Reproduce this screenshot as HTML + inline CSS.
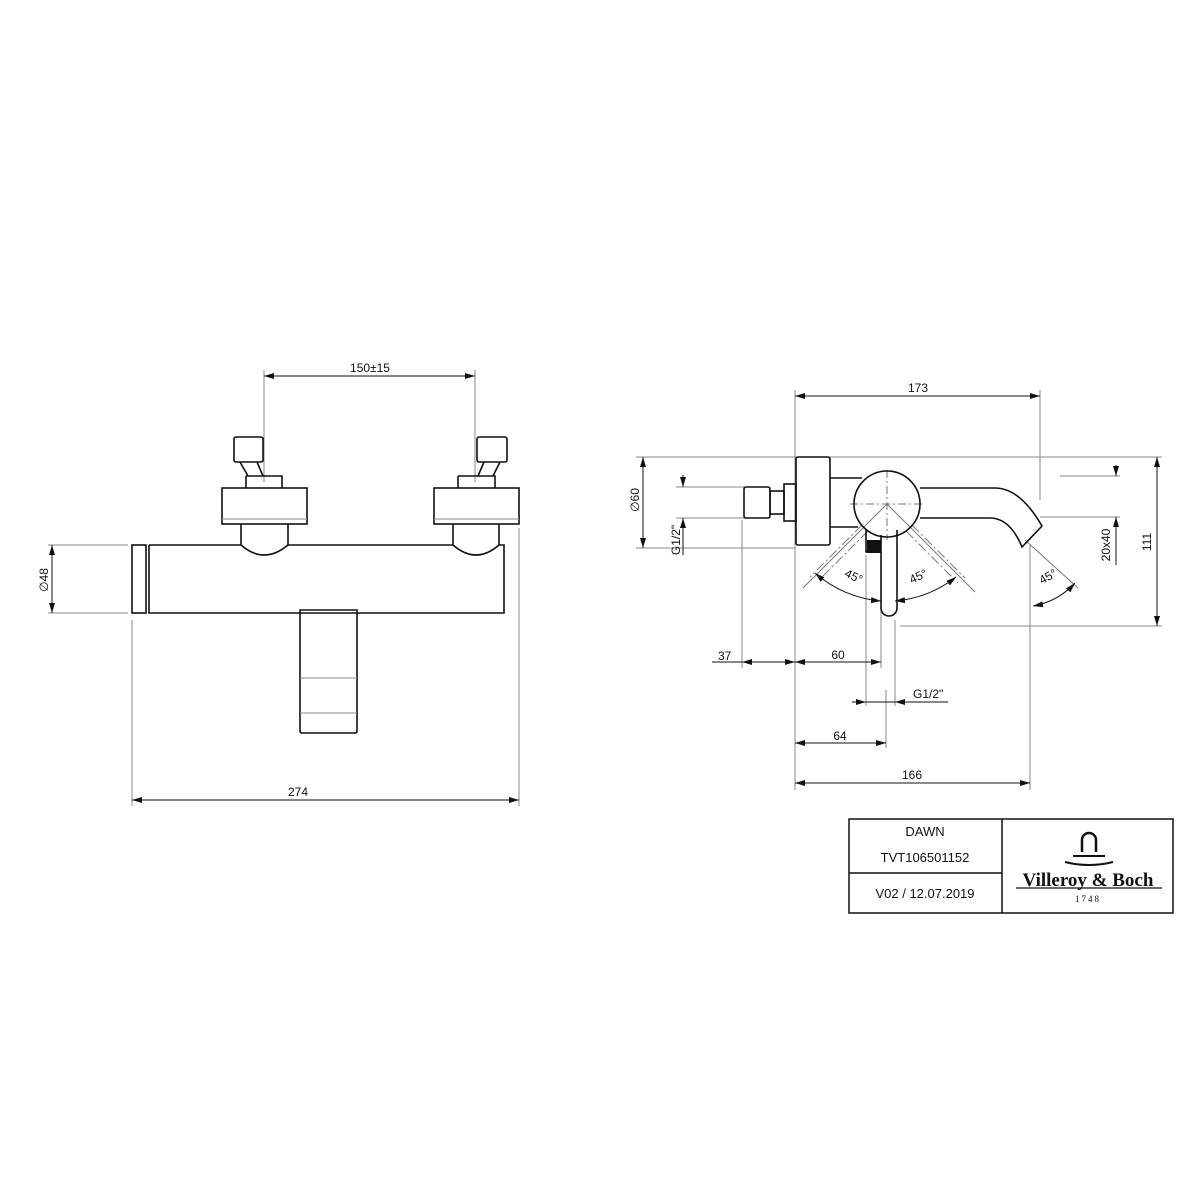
<!DOCTYPE html>
<html><head><style>body{margin:0;background:#fff}svg{display:block}text{font-family:"Liberation Sans",sans-serif;fill:#111}</style></head><body>
<svg width="1200" height="1200" viewBox="0 0 1200 1200" xmlns="http://www.w3.org/2000/svg">
<defs>
<marker id="a" viewBox="0 0 10 6" refX="10" refY="3" markerWidth="10" markerHeight="6" orient="auto-start-reverse" markerUnits="userSpaceOnUse"><path d="M0,0L10,3L0,6z" fill="#111"/></marker>
</defs>
<g stroke="#888" stroke-width="1" fill="none">
<line x1="264" y1="370" x2="264" y2="482"/><line x1="475" y1="370" x2="475" y2="482"/>
<line x1="48" y1="545" x2="128" y2="545"/><line x1="48" y1="613" x2="128" y2="613"/>
<line x1="132" y1="620" x2="132" y2="806"/><line x1="519" y1="528" x2="519" y2="806"/>
<line x1="795" y1="390" x2="795" y2="790"/><line x1="1040" y1="390" x2="1040" y2="500"/>
<line x1="636" y1="457" x2="1162" y2="457"/><line x1="676" y1="487" x2="745" y2="487"/><line x1="676" y1="518" x2="745" y2="518"/>
<line x1="636" y1="548" x2="795" y2="548"/><line x1="900" y1="626" x2="1162" y2="626"/>
<line x1="1060" y1="476" x2="1120" y2="476"/><line x1="1040" y1="517" x2="1120" y2="517"/>
<line x1="742" y1="520" x2="742" y2="668"/><line x1="866" y1="555" x2="866" y2="706"/><line x1="881" y1="560" x2="881" y2="668"/><line x1="886" y1="690" x2="886" y2="748"/><line x1="895" y1="620" x2="895" y2="706"/>
<line x1="1030" y1="545" x2="1030" y2="790"/>
</g>
<g stroke="#777" stroke-width="1" fill="none">
<line x1="887" y1="504" x2="803" y2="588"/><line x1="862" y1="525" x2="810" y2="577" stroke-dasharray="10,3,2,3"/>
<line x1="868" y1="531" x2="818" y2="581" stroke-dasharray="10,3,2,3"/>
<line x1="887" y1="504" x2="975" y2="592"/><line x1="912" y1="525" x2="965" y2="578" stroke-dasharray="10,3,2,3"/>
<line x1="906" y1="531" x2="958" y2="583" stroke-dasharray="10,3,2,3"/>
<line x1="1025" y1="540" x2="1078" y2="588"/>
<line x1="850" y1="504" x2="925" y2="504" stroke-dasharray="8,3,2,3"/><line x1="887" y1="470" x2="887" y2="540" stroke-dasharray="8,3,2,3"/>
</g>
<g stroke="#111" stroke-width="1" fill="none">
<line x1="264" y1="376" x2="475" y2="376" marker-start="url(#a)" marker-end="url(#a)"/>
<line x1="52" y1="545" x2="52" y2="613" marker-start="url(#a)" marker-end="url(#a)"/>
<line x1="132" y1="800" x2="519" y2="800" marker-start="url(#a)" marker-end="url(#a)"/>
<line x1="795" y1="396" x2="1040" y2="396" marker-start="url(#a)" marker-end="url(#a)"/>
<line x1="643" y1="457" x2="643" y2="548" marker-start="url(#a)" marker-end="url(#a)"/>
<line x1="683" y1="475" x2="683" y2="487" marker-end="url(#a)"/><line x1="683" y1="530" x2="683" y2="518" marker-end="url(#a)"/><line x1="683" y1="518" x2="683" y2="555"/>
<line x1="1116" y1="465" x2="1116" y2="476" marker-end="url(#a)"/><line x1="1116" y1="530" x2="1116" y2="517" marker-end="url(#a)"/><line x1="1116" y1="517" x2="1116" y2="565"/>
<line x1="1157" y1="457" x2="1157" y2="626" marker-start="url(#a)" marker-end="url(#a)"/>
<line x1="712" y1="662" x2="795" y2="662"/><line x1="742" y1="662" x2="795" y2="662" marker-start="url(#a)" marker-end="url(#a)"/>
<line x1="795" y1="662" x2="881" y2="662" marker-start="url(#a)" marker-end="url(#a)"/>
<line x1="852" y1="702" x2="866" y2="702" marker-end="url(#a)"/><line x1="866" y1="702" x2="895" y2="702"/><line x1="910" y1="702" x2="895" y2="702" marker-end="url(#a)"/><line x1="910" y1="702" x2="948" y2="702"/>
<line x1="795" y1="743" x2="886" y2="743" marker-start="url(#a)" marker-end="url(#a)"/>
<line x1="795" y1="783" x2="1030" y2="783" marker-start="url(#a)" marker-end="url(#a)"/>
<path d="M815,573 A115,115 0 0 0 881,601" marker-start="url(#a)" marker-end="url(#a)"/>
<path d="M956,577 A115,115 0 0 1 895,601" marker-start="url(#a)" marker-end="url(#a)"/>
<path d="M1033,606 A75,75 0 0 0 1075,583" marker-start="url(#a)" marker-end="url(#a)"/>
</g>
<g stroke="#111" stroke-width="1.6" fill="none">
<rect x="234" y="437" width="29" height="25" rx="2"/>
<path d="M240,462 L248,476 M257,462 L263,476 M246,476 H282 V488"/><path d="M246,476 V488"/>
<rect x="222" y="488" width="85" height="36"/>
<path d="M241,524 V545 Q264,565 288,545 V524"/>
<rect x="477" y="437" width="30" height="25" rx="2"/>
<path d="M500,462 L493,476 M484,462 L478,476 M458,476 H495 V488 M458,476 V488"/>
<rect x="434" y="488" width="85" height="36"/>
<path d="M453,524 V545 Q476,565 499,545 V524"/>
<rect x="132" y="545" width="14" height="68"/>
<path d="M149,545 H241 M288,545 H453 M499,545 H504 V613 H149 V545"/>
<path d="M300,610 V731 Q300,733 302,733 H355 Q357,733 357,731 V610 Z"/>
</g>
<g stroke="#888" stroke-width="1"><line x1="300" y1="678" x2="357" y2="678"/><line x1="300" y1="713" x2="357" y2="713"/><line x1="222" y1="519" x2="307" y2="519"/><line x1="434" y1="519" x2="519" y2="519"/></g>
<g stroke="#111" stroke-width="1.6" fill="none">
<rect x="744" y="487" width="26" height="31" rx="2"/>
<rect x="770" y="491" width="14" height="23"/>
<rect x="784" y="484" width="12" height="37"/>
<rect x="796" y="457" width="34" height="88" rx="2"/>
<path d="M830,478 H862 M830,527 H858"/>
<circle cx="887" cy="504" r="33"/>
<path d="M920,488 H995 Q1020,488 1042,526 L1022,547 Q1010,518 990,518 H920"/>
<path d="M881,535 V608 A8,8 0 0 0 897,608 V530"/>
<path d="M866,530 V552 H881"/>
</g>
<rect x="867" y="540" width="14" height="13" fill="#111"/>
<g font-size="12">
<text x="370" y="372" text-anchor="middle">150±15</text>
<text x="298" y="796" text-anchor="middle">274</text>
<text x="918" y="392" text-anchor="middle">173</text>
<text x="718" y="660">37</text>
<text x="838" y="659" text-anchor="middle">60</text>
<text x="913" y="698">G1/2"</text>
<text x="840" y="740" text-anchor="middle">64</text>
<text x="912" y="779" text-anchor="middle">166</text>
<text transform="translate(48,580) rotate(-90)" text-anchor="middle">∅48</text>
<text transform="translate(639,500) rotate(-90)" text-anchor="middle">∅60</text>
<text transform="translate(680,540) rotate(-90)" text-anchor="middle">G1/2"</text>
<text transform="translate(1110,545) rotate(-90)" text-anchor="middle">20x40</text>
<text transform="translate(1151,542) rotate(-90)" text-anchor="middle">111</text>
<text transform="translate(852,580) rotate(25)" text-anchor="middle">45°</text>
<text transform="translate(920,580) rotate(-25)" text-anchor="middle">45°</text>
<text transform="translate(1050,580) rotate(-30)" text-anchor="middle">45°</text>
</g>
<g stroke="#111" stroke-width="1.5" fill="none">
<rect x="849" y="819" width="324" height="94"/><line x1="1002" y1="819" x2="1002" y2="913"/><line x1="849" y1="873" x2="1002" y2="873"/>
<path d="M1082,852 V840 A7,7 0 0 1 1096,840 V852" stroke-width="2.5"/>
<path d="M1073,856 H1105 M1065,862 Q1089,868 1113,862" stroke-width="2"/>
</g>
<g font-size="13" text-anchor="middle">
<text x="925" y="836">DAWN</text><text x="925" y="862">TVT106501152</text><text x="925" y="898">V02 / 12.07.2019</text>
<text x="1088" y="886" font-size="19" font-weight="bold" style="font-family:'Liberation Serif',serif">Villeroy &amp; Boch</text>
<text x="1088" y="902" font-size="9" style="font-family:'Liberation Serif',serif;letter-spacing:2px">1748</text>
</g>
<line x1="1016" y1="888" x2="1162" y2="888" stroke="#111" stroke-width="1.2"/>
</svg>
</body></html>
